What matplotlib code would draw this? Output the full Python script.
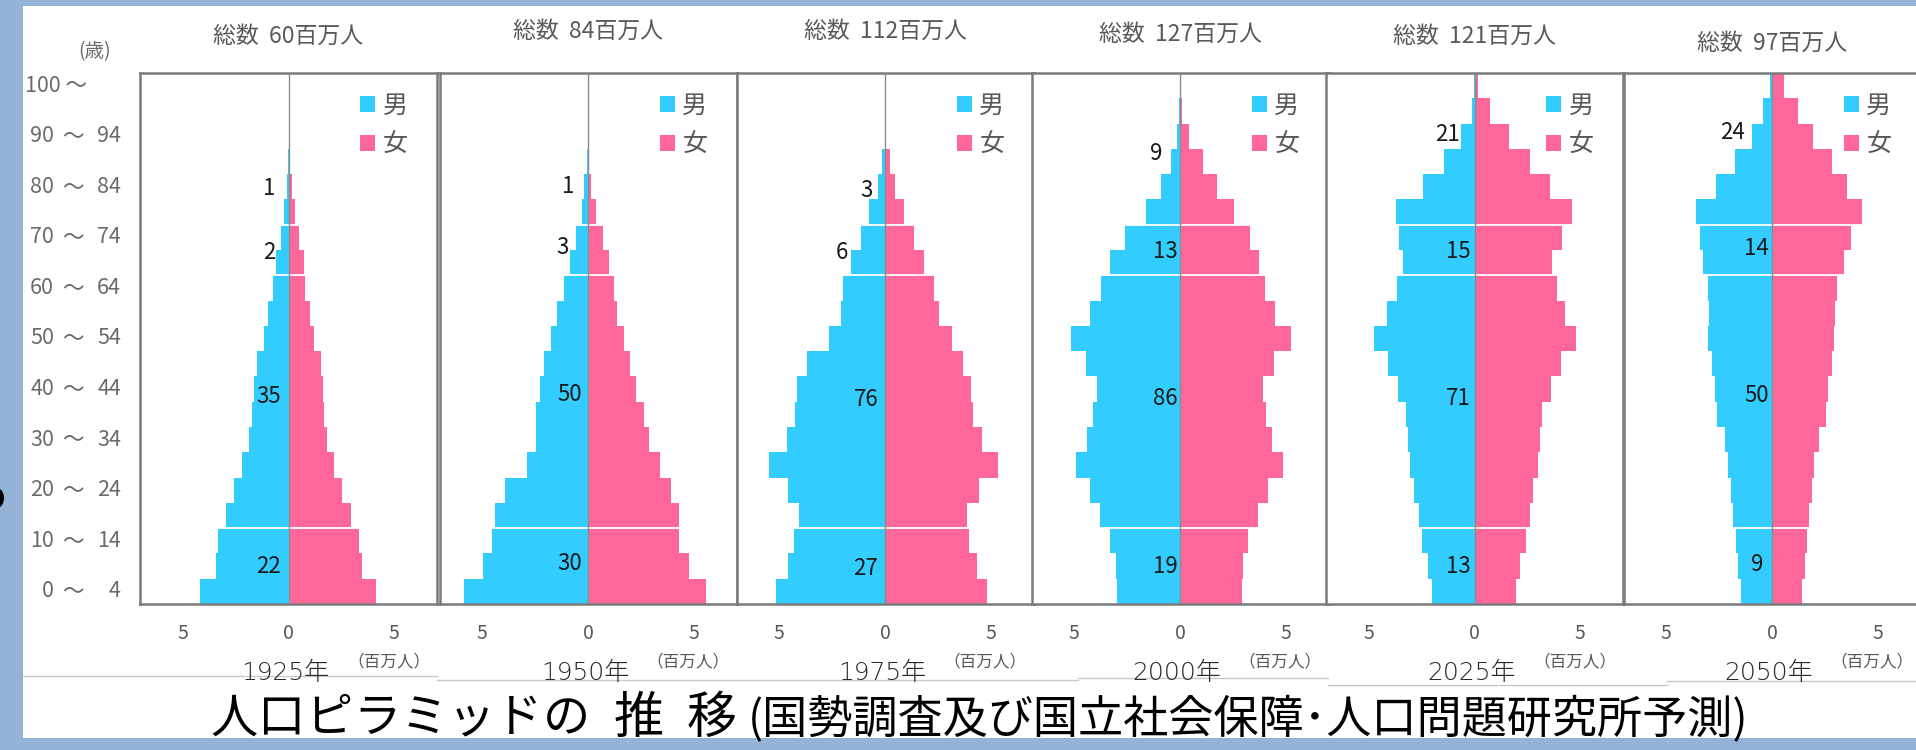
import matplotlib
matplotlib.use("Agg")
import matplotlib.pyplot as plt
from matplotlib.patches import Rectangle, Patch, Ellipse
import matplotlib.transforms as mtransforms

plt.rcParams['font.family'] = ['Noto Sans CJK JP', 'DejaVu Sans']

# ---------------- data ----------------
years = ["1925年", "1950年", "1975年", "2000年", "2025年", "2050年"]
totals = [60, 84, 112, 127, 121, 97]
age_groups = ["0～4", "5～9", "10～14", "15～19", "20～24", "25～29", "30～34",
              "35～39", "40～44", "45～49", "50～54", "55～59", "60～64", "65～69",
              "70～74", "75～79", "80～84", "85～89", "90～94", "95～99", "100～"]
age_tick_lo = ["0", "10", "20", "30", "40", "50", "60", "70", "80", "90", "100"]
age_tick_hi = ["4", "14", "24", "34", "44", "54", "64", "74", "84", "94", ""]
x_tick_values = [-5, 0, 5]
x_tick_labels = ["5", "0", "5"]

# population (millions) per 5-year age group, youngest first
male_1925 = [4.18, 3.44, 3.36, 2.97, 2.56, 2.21, 1.89, 1.74, 1.61, 1.50, 1.18,
             0.95, 0.71, 0.60, 0.36, 0.19, 0.08, 0.01, 0.0, 0.0, 0.0]
female_1925 = [4.13, 3.47, 3.36, 2.95, 2.52, 2.16, 1.81, 1.69, 1.62, 1.53, 1.21,
               1.04, 0.80, 0.71, 0.52, 0.33, 0.17, 0.09, 0.0, 0.0, 0.0]
male_1950 = [5.85, 4.97, 4.54, 4.42, 3.94, 2.89, 2.44, 2.48, 2.29, 2.07, 1.75,
             1.47, 1.15, 0.87, 0.57, 0.28, 0.17, 0.06, 0.0, 0.0, 0.0]
female_1950 = [5.60, 4.76, 4.32, 4.29, 3.94, 3.42, 2.87, 2.67, 2.27, 1.97, 1.69,
               1.37, 1.21, 0.98, 0.71, 0.38, 0.16, 0.03, 0.0, 0.0, 0.0]
male_1975 = [5.17, 4.61, 4.29, 4.05, 4.61, 5.49, 4.65, 4.26, 4.18, 3.71, 2.63,
             2.10, 1.97, 1.62, 1.15, 0.74, 0.32, 0.14, 0.02, 0.0, 0.0]
female_1975 = [4.81, 4.37, 3.99, 3.86, 4.46, 5.36, 4.57, 4.15, 4.05, 3.71, 3.15,
               2.57, 2.32, 1.85, 1.39, 0.90, 0.47, 0.24, 0.05, 0.0, 0.0]
male_2000 = [2.97, 3.04, 3.33, 3.80, 4.27, 4.94, 4.42, 4.12, 3.94, 4.46, 5.17,
             4.27, 3.75, 3.33, 2.62, 1.59, 0.91, 0.44, 0.16, 0.03, 0.0]
female_2000 = [2.92, 3.00, 3.22, 3.69, 4.18, 4.87, 4.34, 4.05, 3.94, 4.45, 5.24,
               4.48, 4.01, 3.75, 3.30, 2.57, 1.74, 1.09, 0.43, 0.10, 0.02]
male_2025 = [2.01, 2.18, 2.48, 2.61, 2.84, 3.05, 3.14, 3.25, 3.60, 4.08, 4.74,
             4.13, 3.67, 3.37, 3.55, 3.73, 2.43, 1.42, 0.62, 0.12, 0.02]
female_2025 = [1.95, 2.13, 2.43, 2.61, 2.79, 3.02, 3.11, 3.19, 3.60, 4.08, 4.79,
               4.26, 3.90, 3.67, 4.13, 4.61, 3.55, 2.61, 1.65, 0.71, 0.18]
male_2050 = [1.47, 1.60, 1.70, 1.83, 1.95, 2.06, 2.24, 2.59, 2.72, 2.84, 3.02,
             2.98, 3.02, 3.25, 3.43, 3.60, 2.66, 1.77, 0.94, 0.41, 0.09]
female_2050 = [1.40, 1.58, 1.65, 1.76, 1.90, 2.01, 2.22, 2.54, 2.66, 2.82, 2.93,
               2.96, 3.09, 3.41, 3.76, 4.24, 3.53, 2.82, 1.93, 1.22, 0.57]

# group totals (millions): 0-14, 15-64, 65-74, 75+
groups_1925 = [22, 35, 2, 1]
groups_1950 = [30, 50, 3, 1]
groups_1975 = [27, 76, 6, 3]
groups_2000 = [19, 86, 13, 9]
groups_2025 = [13, 71, 15, 21]
groups_2050 = [9, 50, 14, 24]

title_main = "人口ピラミッドの"
title_move = ["推", "移"]
title_sub = "(国勢調査及び国立社会保障･人口問題研究所予測)"

male_all = [male_1925, male_1950, male_1975, male_2000, male_2025, male_2050]
female_all = [female_1925, female_1950, female_1975, female_2000, female_2025, female_2050]
groups_all = [groups_1925, groups_1950, groups_1975, groups_2000, groups_2025, groups_2050]

# ---------------- layout / style ----------------
W, H = 1916, 750
MALE_C = "#33CCFF"
FEMALE_C = "#FF6699"
BORDER_C = "#95B3D7"
GRAY_TXT = "#595959"
AGE_C = "#6a6a6a"

panel_centers = [288.5, 588, 885, 1180, 1474.5, 1772]
panel_half = 148.5
panel_top, panel_bottom = 73, 604
header_y = [36, 31, 31, 34, 36, 43]
label_pos = [
    [(-0.36, 1.0), (-0.36, 7.69), (-0.63, 13.42), (-0.63, 15.94)],
    [(-0.28, 1.11), (-0.28, 7.78), (-0.91, 13.58), (-0.65, 16.03)],
    [(-0.32, 0.9), (-0.28, 7.59), (-1.74, 13.42), (-0.6, 15.87)],
    [(-0.1, 1.0), (-0.1, 7.62), (-0.1, 13.44), (-0.84, 17.33)],
    [(-0.18, 1.0), (-0.18, 7.62), (-0.18, 13.44), (-0.67, 18.05)],
    [(-0.41, 1.07), (-0.14, 7.75), (-0.14, 13.55), (-1.3, 18.15)],
]
boundaries = [3, 13, 15]
half_range = panel_half / 21.13


def fx(px):
    return px / W


def fy(py):
    return 1 - py / H


fig = plt.figure(figsize=(W / 100, H / 100), dpi=100)
fig.patch.set_facecolor(BORDER_C)
fig.add_artist(Rectangle((fx(23), fy(738)), fx(W - 23) + 0.01, (738 - 6) / H,
                         transform=fig.transFigure, facecolor="white",
                         edgecolor="none", zorder=0))

axes = []
n = len(age_groups)
ypos = list(range(n))
for i in range(6):
    c = panel_centers[i]
    ax = fig.add_axes([fx(c - panel_half), fy(panel_bottom),
                       fx(2 * panel_half), (panel_bottom - panel_top) / H])
    axes.append(ax)
    m = male_all[i]
    f = female_all[i]
    ax.barh(ypos, [-v for v in m], height=1.0, color=MALE_C, linewidth=0, zorder=2)
    ax.barh(ypos, f, height=1.0, color=FEMALE_C, linewidth=0, zorder=2)
    for k in boundaries:
        ax.hlines(k - 0.5, -max(m[k - 1], m[k]), max(f[k - 1], f[k]),
                  color="white", lw=1.3, zorder=3)
    ax.axvline(0, color="#8c8c8c", lw=1.0, zorder=4)
    ax.set_xlim(-half_range, half_range)
    ax.set_ylim(-0.5, n - 0.5)
    ax.set_yticks([])
    ax.set_xticks(x_tick_values)
    ax.set_xticklabels(x_tick_labels)
    ax.tick_params(axis="x", length=0, pad=14, labelsize=14, labelcolor=GRAY_TXT)
    for s in ax.spines.values():
        s.set_color("#7a7a7a")
        s.set_linewidth(1.8)
    # group annotations
    for val, (x, y) in zip(groups_all[i], label_pos[i]):
        ax.text(x, y, str(val), ha="right", va="center", fontsize=16,
                color="#1a1a1a", zorder=5)
    # legend
    handles = [Patch(facecolor=MALE_C, edgecolor="none"),
               Patch(facecolor=FEMALE_C, edgecolor="none")]
    leg = ax.legend(handles, ["男", "女"], loc="upper left",
                    bbox_to_anchor=(0.742, 0.962), frameon=False,
                    handlelength=0.6, handleheight=0.6, handletextpad=0.3,
                    labelspacing=0.52, fontsize=18, borderaxespad=0, borderpad=0)
    for t in leg.get_texts():
        t.set_color(GRAY_TXT)
    # header
    fig.text(fx(c), fy(header_y[i]), f"総数  {totals[i]}百万人", ha="center",
             va="center", fontsize=16.5, color=GRAY_TXT)
    # unit and year
    fig.text(fx(c + 100), fy(662), "（百万人）", ha="center", va="center",
             fontsize=12, color=GRAY_TXT)
    fig.text(fx(c - 3), fy(673), years[i], ha="center", va="center",
             fontsize=18, color="#262626", fontweight=200,
             family=["DejaVu Sans", "Noto Sans CJK JP"])

# age labels on the left
tr = mtransforms.blended_transform_factory(fig.transFigure, axes[0].transData)
for j, (lo, hi) in enumerate(zip(age_tick_lo, age_tick_hi)):
    y = j * 2
    if hi:
        fig.text(fx(54), y, lo, transform=tr, ha="right", va="center",
                 fontsize=15.5, color=AGE_C)
        fig.text(fx(72.5), y, "～", transform=tr, ha="center", va="center",
                 fontsize=15.5, color=AGE_C)
        fig.text(fx(121), y, hi, transform=tr, ha="right", va="center",
                 fontsize=15.5, color=AGE_C)
    else:
        fig.text(fx(25), y, lo + " ～", transform=tr, ha="left", va="center",
                 fontsize=15.5, color=AGE_C)
fig.text(fx(95), fy(52), "(歳)", ha="center", va="center", fontsize=14,
         color=AGE_C)

# thin gray baseline across the year labels
segments = [(23, 437, 676), (437, 1078, 680), (1078, 1328, 678),
            (1328, 1667, 685), (1667, 1916, 681)]
for x0, x1, yy in segments:
    fig.add_artist(plt.Line2D([fx(x0), fx(x1)], [fy(yy), fy(yy)],
                              transform=fig.transFigure, color="#c8c8c8", lw=1.0))

# title (characters spaced out as in the original)
for i, ch in enumerate(title_main):
    fig.text(fx(234 + 47.5 * i), fy(719), ch, ha="center", va="center",
             fontsize=34, color="black")
fig.text(fx(639), fy(719), title_move[0], ha="center", va="center", fontsize=36, color="black")
fig.text(fx(712), fy(719), title_move[1], ha="center", va="center", fontsize=36, color="black")
fig.text(fx(748), fy(720), title_sub, ha="left", va="center", fontsize=32.5,
         color="black")

# partial glyph at the very left edge
fig.add_artist(Ellipse((fx(-3), fy(498)), fx(14), 20 / H, transform=fig.transFigure,
                       facecolor="black", edgecolor="none"))

fig.savefig("out.png", dpi=100, facecolor=fig.get_facecolor())
